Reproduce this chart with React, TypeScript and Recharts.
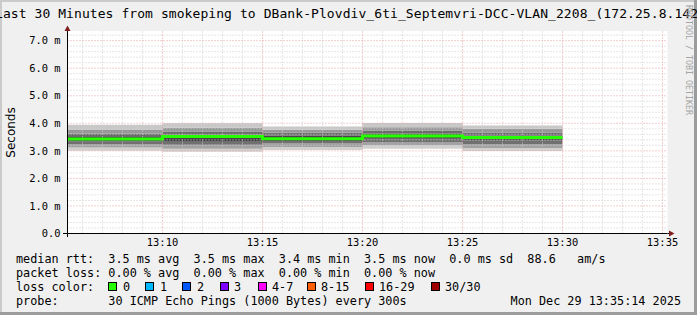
import React from "react";
import {
	ComposedChart,
	Area,
	Line,
	XAxis,
	YAxis,
	CartesianGrid,
	ReferenceLine,
} from "recharts";

// minutes past 13:00, each value covers the 5 min step ending here
const stepStart = 5;
const stepEnds = [10, 15, 20, 25, 30];
const medianRtt = [3.43, 3.52, 3.44, 3.54, 3.48];

// smoke: sorted ping levels per step (ms), from lowest to highest
const smokeMin = [3.0, 2.97, 3.03, 3.08, 2.99];
const smokeQ1 = [3.12, 3.08, 3.14, 3.2, 3.1];
const smokeQ2 = [3.24, 3.22, 3.27, 3.32, 3.24];
const smokeQ3 = [3.34, 3.36, 3.36, 3.44, 3.38];
const smokeQ4 = [3.5, 3.58, 3.55, 3.62, 3.55];
const smokeQ5 = [3.62, 3.7, 3.66, 3.73, 3.67];
const smokeQ6 = [3.76, 3.84, 3.77, 3.86, 3.8];
const smokeMax = [3.95, 4.0, 3.88, 4.01, 3.92];

const xTicks = [10, 15, 20, 25, 30, 35];
const yTicks = [0, 1, 2, 3, 4, 5, 6, 7];

const lossLabels = ["0", "1", "2", "3", "4-7", "8-15", "16-29", "30/30"];
const lossColors = [
	"#26ff00",
	"#00b8ff",
	"#0059ff",
	"#7e00ff",
	"#ff00ff",
	"#ff5e00",
	"#ff0000",
	"#a00000",
];

const levels = [smokeMin, smokeQ1, smokeQ2, smokeQ3, smokeQ4, smokeQ5, smokeQ6, smokeMax];
const bandFill = ["#d0d0d0", "#a2a2a2", "#707070", "#454545", "#6c6c6c", "#989898", "#c8c8c8"];

const data = [stepStart, ...stepEnds].map((t, k) => {
	const i = Math.max(0, k - 1);
	const row: Record<string, number> = { t, median: medianRtt[i], base: smokeMin[i] };
	for (let b = 1; b < levels.length; b++) {
		row["b" + b] = +(levels[b][i] - levels[b - 1][i]).toFixed(3);
	}
	return row;
});

const minorY: number[] = [];
for (let v = 0.2; v < 7.35; v += 0.2) {
	if (Math.abs(v - Math.round(v)) > 0.01) minorY.push(+v.toFixed(1));
}
const minorX: number[] = [];
for (let m = 6; m <= 35; m++) if (m % 5 !== 0) minorX.push(m);

const mono = "'DejaVu Sans Mono', monospace";
const pre = (s: string) => s.replace(/ /g, "\u00a0");

const swatchX = [108, 145, 182, 220, 258, 307, 365, 431];
const swatchLabelX = [123, 160, 197, 234, 272, 321, 379, 445];

const App = () => {
	return (
		<div
			style={{
				position: "fixed",
				left: 0,
				top: 0,
				width: 697,
				height: 315,
				background: "#f0f0f0",
				overflow: "hidden",
			}}
		>
			<ComposedChart
				width={697}
				height={315}
				data={data}
				margin={{ top: 31, right: 29.5, bottom: 51.5, left: 7.5 }}
			>
				<CartesianGrid fill="#ffffff" horizontal={false} vertical={false} />
				<XAxis
					dataKey="t"
					type="number"
					domain={[5.25, 35.25]}
					allowDataOverflow
					ticks={xTicks}
					tickFormatter={(m) => `13:${m}`}
					tickLine={false}
					tickSize={3}
					tickMargin={2}
					axisLine={{ stroke: "#000" }}
					tick={{ fontFamily: mono, fontSize: 10.4, fill: "#000" }}
					height={30}
				/>
				<YAxis
					type="number"
					domain={[0, 7.35]}
					allowDataOverflow
					ticks={yTicks}
					tickFormatter={(v) => (v === 0 ? "0.0" : `${v.toFixed(1)} m`)}
					tickLine={false}
					tickSize={4}
					tickMargin={3}
					axisLine={{ stroke: "#000" }}
					tick={{ fontFamily: mono, fontSize: 10.4, fill: "#000" }}
					width={60}
				/>
				<Area
					type="stepBefore"
					dataKey="base"
					stackId="smoke"
					stroke="none"
					fill="none"
					fillOpacity={0}
					isAnimationActive={false}
				/>
				{bandFill.map((c, b) => (
					<Area
						key={b}
						type="stepBefore"
						dataKey={"b" + (b + 1)}
						stackId="smoke"
						stroke="none"
						fill={c}
						fillOpacity={1}
						isAnimationActive={false}
					/>
				))}
				{minorY.map((v) => (
					<ReferenceLine key={"hy" + v} y={v} stroke="#cdcdcd" strokeDasharray="1 2" />
				))}
				{minorX.map((m) => (
					<ReferenceLine key={"hx" + m} x={m} stroke="#cdcdcd" strokeDasharray="1 2" />
				))}
				{yTicks.slice(1).map((v) => (
					<ReferenceLine key={"my" + v} y={v} stroke="#e4a0a0" strokeDasharray="1 2" />
				))}
				{xTicks.map((m) => (
					<ReferenceLine key={"mx" + m} x={m} stroke="#e4a0a0" strokeDasharray="1 2" />
				))}
				<Line
					type="stepBefore"
					dataKey="median"
					stroke="#26ff00"
					strokeWidth={3}
					dot={false}
					isAnimationActive={false}
				/>
			</ComposedChart>
			<svg
				width={697}
				height={315}
				style={{ position: "absolute", left: 0, top: 0, pointerEvents: "none" }}
			>
				{/* frame */}
				<rect x={0} y={0} width={697} height={2} fill="#cbcbcb" />
				<rect x={0} y={0} width={2} height={315} fill="#cbcbcb" />
				<rect x={694} y={0} width={3} height={315} fill="#9c9c9c" />
				<rect x={0} y={312} width={697} height={3} fill="#9c9c9c" />
				{/* axis overhang + arrows */}
				<line x1={63} y1={233.5} x2={67.5} y2={233.5} stroke="#000" />
				<line x1={667.5} y1={233.5} x2={670} y2={233.5} stroke="#000" />
				<line x1={67.5} y1={233.5} x2={67.5} y2={237} stroke="#000" />
				<line x1={67.5} y1={31} x2={67.5} y2={29} stroke="#000" />
				<polygon points="64.5,31 70.5,31 67.5,25.5" fill="#7f1f1f" />
				<polygon points="669,230.5 669,236.5 674.5,233.5" fill="#7f1f1f" />
				<text
					x={-5}
					y={18}
					textLength={711}
					lengthAdjust="spacing"
					fontFamily={mono}
					fontSize={13}
					fill="#000"
				>
					Last 30 Minutes from smokeping to DBank-Plovdiv_6ti_Septemvri-DCC-VLAN_2208_(172.25.8.142)
				</text>
				<text
					x={11}
					y={132.5}
					transform="rotate(-90 11 132.5)"
					textAnchor="middle"
					dominantBaseline="central"
					fontFamily="'DejaVu Sans', sans-serif"
					fontSize={12}
					fill="#000"
				>
					Seconds
				</text>
				<text
					x={688.5}
					y={60}
					transform="rotate(90 688.5 60)"
					textAnchor="middle"
					dominantBaseline="central"
					fontFamily={mono}
					fontSize={8.3}
					fill="#a4a4a4"
				>
					RRDTOOL / TOBI OETIKER
				</text>
				<g fontFamily={mono} fontSize={11.8} fill="#000">
					<text x={16} y={263}>
						{pre("median rtt:  3.5 ms avg  3.5 ms max  3.4 ms min  3.5 ms now  0.0 ms sd  88.6   am/s")}
					</text>
					<text x={16} y={277}>
						{pre("packet loss: 0.00 % avg  0.00 % max  0.00 % min  0.00 % now")}
					</text>
					<text x={16} y={291}>
						{pre("loss color:")}
					</text>
					{lossLabels.map((l, i) => (
						<g key={l}>
							<rect
								x={swatchX[i] + 0.5}
								y={282.5}
								width={8}
								height={8}
								fill={lossColors[i]}
								stroke="#000"
							/>
							<text x={swatchLabelX[i]} y={291}>
								{l}
							</text>
						</g>
					))}
					<text x={16} y={305}>
						{pre("probe:       30 ICMP Echo Pings (1000 Bytes) every 300s")}
					</text>
					<text x={681} y={305} textAnchor="end">
						{pre("Mon Dec 29 13:35:14 2025")}
					</text>
				</g>
			</svg>
		</div>
	);
};

export default App;
